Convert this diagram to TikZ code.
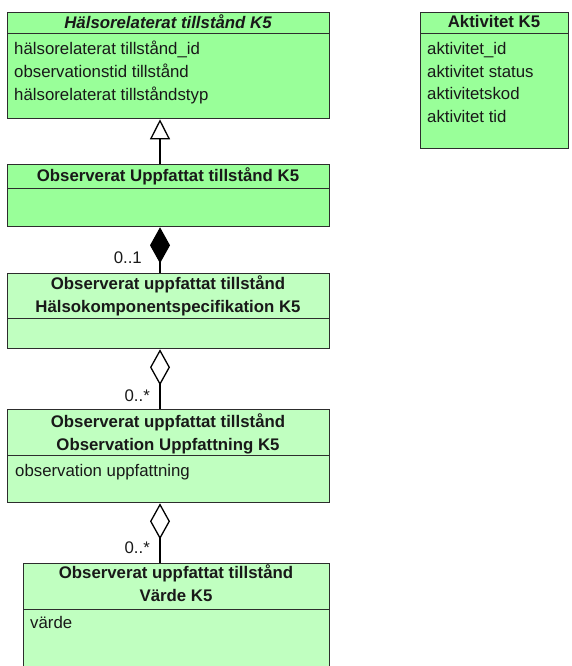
\documentclass[tikz,border=0pt]{standalone}
\usepackage{fontspec}
\setmainfont{Liberation Sans}
\usetikzlibrary{arrows.meta}

\definecolor{classdark}{RGB}{153,255,153}
\definecolor{classlight}{RGB}{192,255,192}
\definecolor{edge}{RGB}{45,45,45}
\definecolor{ink}{RGB}{25,25,25}

\tikzset{
  umlpart/.style={draw=edge, line width=1.3pt, rectangle, inner sep=0pt, anchor=north west},
  darkpart/.style={umlpart, fill=classdark},
  lightpart/.style={umlpart, fill=classlight},
  classname/.style={font=\fontsize{16.8}{20}\selectfont\bfseries, text=ink, anchor=base, inner sep=0pt},
  abstractname/.style={classname, font=\fontsize{16.8}{20}\selectfont\bfseries\itshape},
  attr/.style={font=\fontsize{16.8}{20}\selectfont, text=ink, anchor=base west, inner sep=0pt},
  mult/.style={font=\fontsize{16.8}{20}\selectfont, text=ink, anchor=base east, inner sep=0pt},
  link/.style={draw=black, line width=1.3pt},
  generalization/.style={link, -{Triangle[open, length=20pt, width=20pt, fill=white]}},
  composition/.style={link, {Diamond[length=36pt, width=20pt, fill=black]}-},
  aggregation/.style={link, {Diamond[open, length=36pt, width=20pt, fill=white]}-},
}

\begin{document}
\begin{tikzpicture}[x=1pt, y=-1pt]
\useasboundingbox (0,0) rectangle (571,666);
\clip (0,0) rectangle (571,666);

% vertical axis shared by the connectors of the left column
\coordinate (axis) at (160,0);

% Hälsorelaterat tillstånd K5 (abstract)
\node[darkpart, minimum width=322pt, minimum height=21pt] (hrt-head) at (7,12) {};
\node[darkpart, minimum width=322pt, minimum height=85pt] (hrt-body) at (7,33) {};
\node[abstractname] (hrt-name) at (168,29) {Hälsorelaterat tillstånd K5};
\node[attr] (hrt-a1) at (14,55) {hälsorelaterat tillstånd\_id};
\node[attr] (hrt-a2) at (14,78) {observationstid tillstånd};
\node[attr] (hrt-a3) at (14,101) {hälsorelaterat tillståndstyp};

% Aktivitet K5
\node[darkpart, minimum width=148pt, minimum height=21pt] (akt-head) at (420,12) {};
\node[darkpart, minimum width=148pt, minimum height=115pt] (akt-body) at (420,33) {};
\node[classname] (akt-name) at (494,28) {Aktivitet K5};
\node[attr] (akt-a1) at (427,55) {aktivitet\_id};
\node[attr] (akt-a2) at (427,77.5) {aktivitet status};
\node[attr] (akt-a3) at (427,100) {aktivitetskod};
\node[attr] (akt-a4) at (427,122.5) {aktivitet tid};

% Observerat Uppfattat tillstånd K5
\node[darkpart, minimum width=322pt, minimum height=24pt] (out-head) at (7,164) {};
\node[darkpart, minimum width=322pt, minimum height=38pt] (out-body) at (7,188) {};
\node[classname] (out-name) at (168,181) {Observerat Uppfattat tillstånd K5};

% Observerat uppfattat tillstånd Hälsokomponentspecifikation K5
\node[lightpart, minimum width=322pt, minimum height=45pt] (hk-head) at (7,273) {};
\node[lightpart, minimum width=322pt, minimum height=30pt] (hk-body) at (7,318) {};
\node[classname] (hk-name1) at (168,289) {Observerat uppfattat tillstånd};
\node[classname] (hk-name2) at (168,312) {Hälsokomponentspecifikation K5};

% Observerat uppfattat tillstånd Observation Uppfattning K5
\node[lightpart, minimum width=322pt, minimum height=46pt] (obs-head) at (7,409) {};
\node[lightpart, minimum width=322pt, minimum height=47pt] (obs-body) at (7,455) {};
\node[classname] (obs-name1) at (168,427) {Observerat uppfattat tillstånd};
\node[classname] (obs-name2) at (168,450) {Observation Uppfattning K5};
\node[attr] (obs-a1) at (15,476) {observation uppfattning};

% Observerat uppfattat tillstånd Värde K5
\node[lightpart, minimum width=306pt, minimum height=46pt] (var-head) at (23,563) {};
\node[lightpart, minimum width=306pt, minimum height=70pt] (var-body) at (23,609) {};
\node[classname] (var-name1) at (176,578) {Observerat uppfattat tillstånd};
\node[classname] (var-name2) at (176,601) {Värde K5};
\node[attr] (var-a1) at (30,628) {värde};

% relations
\draw[generalization] (out-head.north -| axis) -- (hrt-body.south -| axis);
\draw[composition] (out-body.south -| axis) -- (hk-head.north -| axis);
\draw[aggregation] (hk-body.south -| axis) -- (obs-head.north -| axis);
\draw[aggregation] (obs-body.south -| axis) -- (var-head.north -| axis);

% multiplicities
\node[mult] (m-out-hk) at (142,263) {0..1};
\node[mult] (m-hk-obs) at (150,401) {0..*};
\node[mult] (m-obs-var) at (150,553) {0..*};
\end{tikzpicture}
\end{document}
